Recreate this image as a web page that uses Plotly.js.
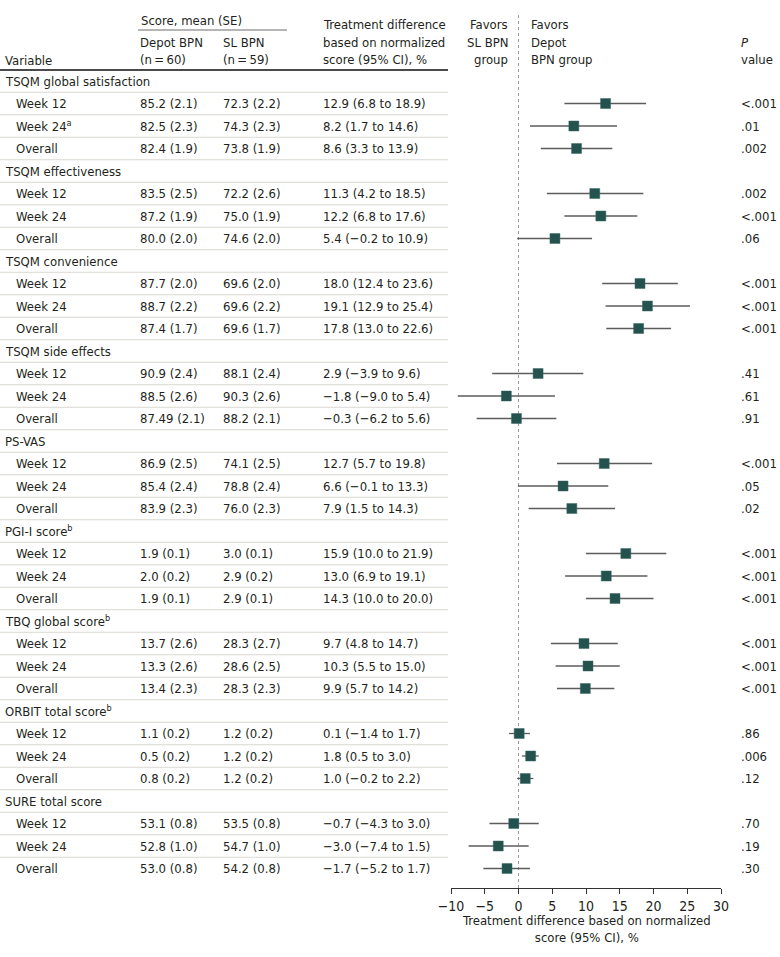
<!DOCTYPE html>
<html>
<head>
<meta charset="utf-8">
<script src="https://cdn.plot.ly/plotly-3.0.1.min.js"></script>
<style>html,body{margin:0;padding:0;background:#fff;}#chart{width:780px;height:957px;}</style>
</head>
<body>
<div id="chart"></div>
<script>
// ---------------- DATA ----------------
const groupNames = [
  "TSQM global satisfaction",
  "TSQM effectiveness",
  "TSQM convenience",
  "TSQM side effects",
  "PS-VAS",
  "PGI-I score<sup>b</sup>",
  "TBQ global score<sup>b</sup>",
  "ORBIT total score<sup>b</sup>",
  "SURE total score"
];
const subLabels = [
  ["Week 12", "Week 24<sup>a</sup>", "Overall"],
  ["Week 12", "Week 24", "Overall"],
  ["Week 12", "Week 24", "Overall"],
  ["Week 12", "Week 24", "Overall"],
  ["Week 12", "Week 24", "Overall"],
  ["Week 12", "Week 24", "Overall"],
  ["Week 12", "Week 24", "Overall"],
  ["Week 12", "Week 24", "Overall"],
  ["Week 12", "Week 24", "Overall"]
];
const depotScores = [
  "85.2 (2.1)", "82.5 (2.3)", "82.4 (1.9)",
  "83.5 (2.5)", "87.2 (1.9)", "80.0 (2.0)",
  "87.7 (2.0)", "88.7 (2.2)", "87.4 (1.7)",
  "90.9 (2.4)", "88.5 (2.6)", "87.49 (2.1)",
  "86.9 (2.5)", "85.4 (2.4)", "83.9 (2.3)",
  "1.9 (0.1)", "2.0 (0.2)", "1.9 (0.1)",
  "13.7 (2.6)", "13.3 (2.6)", "13.4 (2.3)",
  "1.1 (0.2)", "0.5 (0.2)", "0.8 (0.2)",
  "53.1 (0.8)", "52.8 (1.0)", "53.0 (0.8)"
];
const slScores = [
  "72.3 (2.2)", "74.3 (2.3)", "73.8 (1.9)",
  "72.2 (2.6)", "75.0 (1.9)", "74.6 (2.0)",
  "69.6 (2.0)", "69.6 (2.2)", "69.6 (1.7)",
  "88.1 (2.4)", "90.3 (2.6)", "88.2 (2.1)",
  "74.1 (2.5)", "78.8 (2.4)", "76.0 (2.3)",
  "3.0 (0.1)", "2.9 (0.2)", "2.9 (0.1)",
  "28.3 (2.7)", "28.6 (2.5)", "28.3 (2.3)",
  "1.2 (0.2)", "1.2 (0.2)", "1.2 (0.2)",
  "53.5 (0.8)", "54.7 (1.0)", "54.2 (0.8)"
];
const diffs = [
  12.9, 8.2, 8.6,
  11.3, 12.2, 5.4,
  18.0, 19.1, 17.8,
  2.9, -1.8, -0.3,
  12.7, 6.6, 7.9,
  15.9, 13.0, 14.3,
  9.7, 10.3, 9.9,
  0.1, 1.8, 1.0,
  -0.7, -3.0, -1.7
];
const ciLow = [
  6.8, 1.7, 3.3,
  4.2, 6.8, -0.2,
  12.4, 12.9, 13.0,
  -3.9, -9.0, -6.2,
  5.7, -0.1, 1.5,
  10.0, 6.9, 10.0,
  4.8, 5.5, 5.7,
  -1.4, 0.5, -0.2,
  -4.3, -7.4, -5.2
];
const ciHigh = [
  18.9, 14.6, 13.9,
  18.5, 17.6, 10.9,
  23.6, 25.4, 22.6,
  9.6, 5.4, 5.6,
  19.8, 13.3, 14.3,
  21.9, 19.1, 20.0,
  14.7, 15.0, 14.2,
  1.7, 3.0, 2.2,
  3.0, 1.5, 1.7
];
const pValues = [
  "<.001", ".01", ".002",
  ".002", "<.001", ".06",
  "<.001", "<.001", "<.001",
  ".41", ".61", ".91",
  "<.001", ".05", ".02",
  "<.001", "<.001", "<.001",
  "<.001", "<.001", "<.001",
  ".86", ".006", ".12",
  ".70", ".19", ".30"
];
const xTicks = [-10, -5, 0, 5, 10, 15, 20, 25, 30];

// ---------------- LAYOUT HELPERS ----------------
const W = 780, H = 957;
const FONT = "'DejaVu Sans Condensed', 'Liberation Sans Narrow', sans-serif";
const FS = 13;
const TXT = "#231f20";
const px = v => v / W;
const py = v => 1 - v / H;
const fmt = v => (v < 0 ? "\u2212" : "") + Math.abs(v).toFixed(1);

const rowIdx = [];
const annotations = [];
const shapes = [];

function add(x, y, text, o) {
  o = o || {};
  annotations.push(Object.assign({
    xref: "paper", yref: o.yref || "y", x: x, y: y, text: text,
    showarrow: false, xanchor: "left", yanchor: "middle",
    font: {family: FONT, size: FS, color: TXT}
  }, o.extra || {}));
}

const colVar = px(3), colSub = px(14), colDepot = px(138), colSL = px(221),
      colDiff = px(321), colP = px(739);

let r = 0, k = 0;
groupNames.forEach((g, gi) => {
  add(colVar, r, g);
  shapes.push({type: "line", xref: "paper", yref: "y", x0: 0, x1: px(448), y0: r + 0.5, y1: r + 0.5,
               line: {color: "#d9d8d0", width: 1}});
  r++;
  subLabels[gi].forEach((s) => {
    rowIdx.push(r);
    add(colSub, r, s);
    add(colDepot, r, depotScores[k]);
    add(colSL, r, slScores[k]);
    add(colDiff, r, fmt(diffs[k]) + " (" + fmt(ciLow[k]) + " to " + fmt(ciHigh[k]) + ")");
    add(colP, r, pValues[k]);
    if (!(gi === groupNames.length - 1 && s === "Overall")) {
      shapes.push({type: "line", xref: "paper", yref: "y", x0: 0, x1: px(448), y0: r + 0.5, y1: r + 0.5,
                   line: {color: "#d9d8d0", width: 1}});
    }
    r++; k++;
  });
});

// headers
const hp = (x, y, t, extra) => add(x, py(y), t, {yref: "paper", extra: extra});
hp(px(139), 20, "Score, mean (SE)");
hp(colDepot, 43, "Depot BPN");
hp(colDepot, 60, "(n\u2009=\u200960)");
hp(colSL, 43, "SL BPN");
hp(colSL, 60, "(n\u2009=\u200959)");
hp(colVar, 61, "Variable");
hp(colDiff, 25, "Treatment difference");
hp(colDiff, 43, "based on normalized");
hp(colDiff, 60, "score (95% CI), %");
hp(px(510), 25, "Favors", {xanchor: "right"});
hp(px(510), 42, "SL BPN", {xanchor: "right"});
hp(px(510), 60, "group", {xanchor: "right"});
hp(px(529), 25, "Favors");
hp(px(529), 42, "Depot");
hp(px(529), 60, "BPN group");
hp(colP, 42, "<i>P</i>");
hp(colP, 60, "value");
// axis title
add(px(586), py(911), "Treatment difference based on normalized<br>score (95% CI), %",
    {yref: "paper", extra: {xanchor: "center", yanchor: "top", align: "center"}});

// rules
shapes.push({type: "line", xref: "paper", yref: "paper", x0: px(138), x1: px(287), y0: py(30), y1: py(30),
             line: {color: "#6d6d6d", width: 1}});
shapes.push({type: "line", xref: "paper", yref: "paper", x0: 0, x1: px(448), y0: py(70), y1: py(70),
             line: {color: "#4a4a4a", width: 2}});
// zero line
shapes.push({type: "line", xref: "x", yref: "paper", x0: 0, x1: 0, y0: py(888), y1: py(14),
             line: {color: "#9a9a9a", width: 1, dash: "dot"}, layer: "below"});

const trace = {
  type: "scatter", mode: "markers",
  x: diffs, y: rowIdx,
  marker: {symbol: "square", size: 10, color: "#24524f", line: {color: "#3d6a66", width: 0.5}},
  error_x: {type: "data", symmetric: false,
            array: diffs.map((d, i) => ciHigh[i] - d),
            arrayminus: diffs.map((d, i) => d - ciLow[i]),
            color: "#5c5c5c", thickness: 1.3, width: 0},
  hoverinfo: "skip", cliponaxis: false
};

const pxPerRow = 22.5, top0 = 81, plotH = 888;
const layout = {
  width: W, height: H,
  margin: {l: 0, r: 0, t: 0, b: 0},
  paper_bgcolor: "#fff", plot_bgcolor: "rgba(0,0,0,0)",
  showlegend: false,
  font: {family: FONT, size: FS, color: TXT},
  xaxis: {
    domain: [px(451), px(721)], range: [-10, 30], tickvals: xTicks,
    showgrid: false, zeroline: false, showline: true, linecolor: "#333", linewidth: 1,
    ticks: "outside", ticklen: 5, tickcolor: "#333", tickwidth: 1,
    tickfont: {family: FONT, size: 14, color: TXT}, fixedrange: true
  },
  yaxis: {
    domain: [1 - plotH / H, 1],
    range: [(plotH - top0) / pxPerRow, -top0 / pxPerRow],
    visible: false, fixedrange: true
  },
  annotations: annotations,
  shapes: shapes
};

Plotly.newPlot("chart", [trace], layout, {staticPlot: true, displayModeBar: false});
</script>
</body>
</html>
